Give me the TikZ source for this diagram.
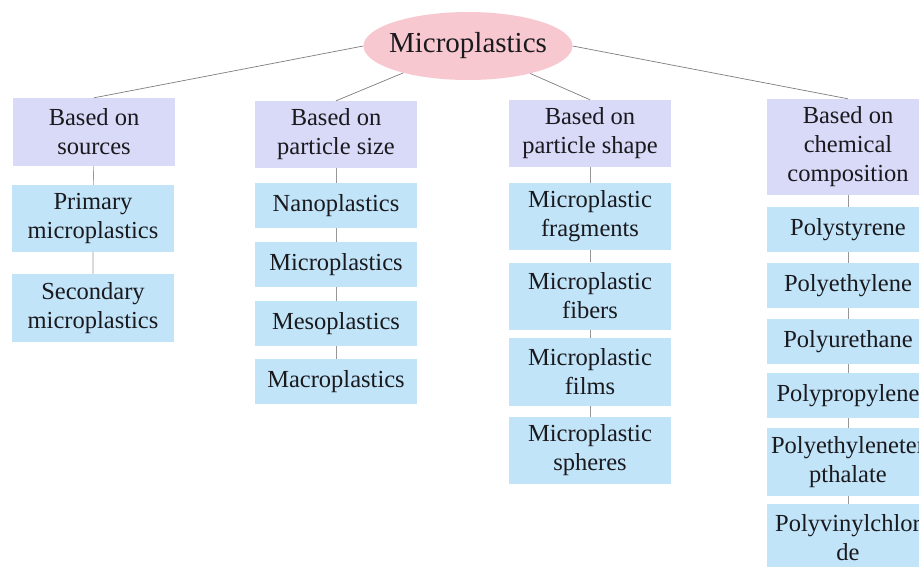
\documentclass[tikz,border=0pt]{standalone}
\usepackage{fontspec}
\setmainfont{Liberation Serif}
\usepackage{xcolor}
\usepackage{tikz}
\usetikzlibrary{shapes.geometric}
\definecolor{rootpink}{RGB}{248, 200, 208}
\definecolor{headlav}{RGB}{217, 217, 248}
\definecolor{leafblue}{RGB}{193, 228, 248}
\definecolor{linkgray}{RGB}{125, 125, 125}
\definecolor{inkdark}{RGB}{25, 25, 30}

\begin{document}
\begin{tikzpicture}[
  x=1pt, y=-1pt,
  root/.style={ellipse, fill=rootpink, minimum width=209pt, minimum height=68pt,
               inner xsep=-30pt, inner ysep=0pt, text=inkdark, font=\fontsize{29}{32}\selectfont},
  head/.style={rectangle, fill=headlav, minimum width=162pt, minimum height=68pt,
               inner sep=2pt, align=center, text=inkdark, font=\fontsize{24.5}{29}\selectfont},
  leaf/.style={rectangle, fill=leafblue, minimum width=162pt, minimum height=45pt,
               inner sep=2pt, align=center, text=inkdark, font=\fontsize{24.5}{29}\selectfont},
  link/.style={linkgray, line width=0.7pt},
  vlink/.style={linkgray!80, line width=0.6pt}
]
\useasboundingbox (0,0) rectangle (919,566);
\clip (0,0) rectangle (919,566);

\node[root] (R) at (468,46) {Microplastics};

% sources
\node[head] (S) at (94,132) {Based on\\sources};
\node[leaf, minimum height=67pt] (S1) at (93,218.5) {Primary\\microplastics};
\node[leaf, minimum height=68pt] (S2) at (93,308) {Secondary\\microplastics};

% particle size
\node[head, minimum height=67pt] (Z) at (336,134.5) {Based on\\particle size};
\node[leaf] (Z1) at (336,205.5) {Nanoplastics};
\node[leaf] (Z2) at (336,264.5) {Microplastics};
\node[leaf] (Z3) at (336,323.5) {Mesoplastics};
\node[leaf] (Z4) at (336,381.5) {Macroplastics};

% particle shape
\node[head, minimum height=67pt] (P) at (590,133.5) {Based on\\particle shape};
\node[leaf, minimum height=67pt] (P1) at (590,216.5) {Microplastic\\fragments};
\node[leaf, minimum height=67pt] (P2) at (590,296) {Microplastic\\fibers};
\node[leaf, minimum height=68pt] (P3) at (590,372) {Microplastic\\films};
\node[leaf, minimum height=67pt] (P4) at (590,450.5) {Microplastic\\spheres};

% chemical composition
\node[head, minimum height=96pt] (C) at (848,147) {Based on\\chemical\\composition};
\node[leaf] (C1) at (848,229.5) {Polystyrene};
\node[leaf] (C2) at (848,285.5) {Polyethylene};
\node[leaf] (C3) at (848,341.5) {Polyurethane};
\node[leaf] (C4) at (848,395.5) {Polypropylene};
\node[leaf, minimum height=68pt] (C5) at (848,462) {Polyethyleneter\\pthalate};
\node[leaf, minimum height=68pt] (C6) at (848,538) {Polyvinylchlor\\de};

\draw[link] (R.west) -- (S.north);
\draw[link] (R) -- (Z.north);
\draw[link] (R) -- (P.north);
\draw[link] (R.east) -- (C.north);

\draw[vlink] (S) -- (S1) (S1) -- (S2);
\draw[vlink] (Z) -- (Z1) (Z1) -- (Z2) (Z2) -- (Z3) (Z3) -- (Z4);
\draw[vlink] (P) -- (P1) (P1) -- (P2) (P2) -- (P3) (P3) -- (P4);
\draw[vlink] (C) -- (C1) (C1) -- (C2) (C2) -- (C3) (C3) -- (C4) (C4) -- (C5) (C5) -- (C6);
\end{tikzpicture}
\end{document}
